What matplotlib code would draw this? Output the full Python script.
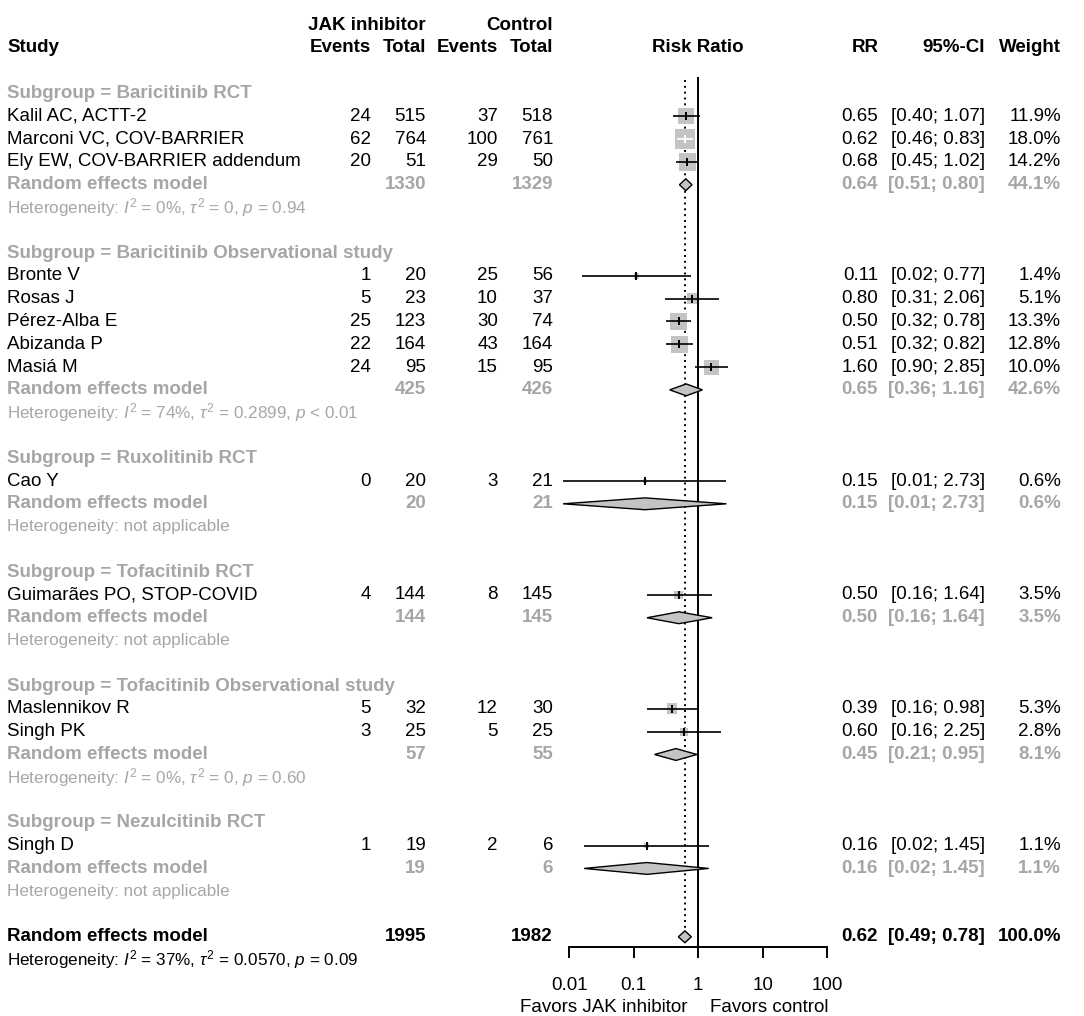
import matplotlib.pyplot as plt
import numpy as np
from matplotlib.patches import Polygon
from matplotlib.ticker import NullLocator
from matplotlib.transforms import blended_transform_factory

plt.rcParams["font.family"] = ["Liberation Sans", "DejaVu Sans"]
plt.rcParams["mathtext.fontset"] = "custom"
plt.rcParams["mathtext.rm"] = "Liberation Sans"
plt.rcParams["mathtext.it"] = "Liberation Sans:italic"
plt.rcParams["mathtext.bf"] = "Liberation Sans:bold"

# --- study level data ---
studies = ["Kalil AC, ACTT-2", "Marconi VC, COV-BARRIER", "Ely EW, COV-BARRIER addendum",
           "Bronte V", "Rosas J", "Pérez-Alba E", "Abizanda P", "Masiá M",
           "Cao Y",
           "Guimarães PO, STOP-COVID",
           "Maslennikov R", "Singh PK",
           "Singh D"]
jak_events = [24, 62, 20, 1, 5, 25, 22, 24, 0, 4, 5, 3, 1]
jak_total = [515, 764, 51, 20, 23, 123, 164, 95, 20, 144, 32, 25, 19]
ctl_events = [37, 100, 29, 25, 10, 30, 43, 15, 3, 8, 12, 5, 2]
ctl_total = [518, 761, 50, 56, 37, 74, 164, 95, 21, 145, 30, 25, 6]
rr = [0.65, 0.62, 0.68, 0.11, 0.80, 0.50, 0.51, 1.60, 0.15, 0.50, 0.39, 0.60, 0.16]
rr_lo = [0.40, 0.46, 0.45, 0.016, 0.31, 0.32, 0.32, 0.90, 0.008, 0.16, 0.16, 0.16, 0.017]
rr_hi = [1.07, 0.83, 1.02, 0.77, 2.06, 0.78, 0.82, 2.85, 2.73, 1.64, 0.98, 2.25, 1.45]
weight = [11.9, 18.0, 14.2, 1.4, 5.1, 13.3, 12.8, 10.0, 0.6, 3.5, 5.3, 2.8, 1.1]

# --- subgroup data ---
sub_names = ["Baricitinib RCT", "Baricitinib Observational study", "Ruxolitinib RCT",
             "Tofacitinib RCT", "Tofacitinib Observational study", "Nezulcitinib RCT"]
sub_n = [3, 5, 1, 1, 2, 1]
sub_jak_total = [1330, 425, 20, 144, 57, 19]
sub_ctl_total = [1329, 426, 21, 145, 55, 6]
sub_rr = [0.64, 0.65, 0.15, 0.50, 0.45, 0.16]
sub_lo = [0.51, 0.36, 0.008, 0.16, 0.21, 0.017]
sub_hi = [0.80, 1.16, 2.73, 1.64, 0.95, 1.45]
sub_weight = [44.1, 42.6, 0.6, 3.5, 8.1, 1.1]
sub_het = [r"$I^2$ = 0%, $\tau^2$ = 0, $p$ = 0.94",
           r"$I^2$ = 74%, $\tau^2$ = 0.2899, $p$ < 0.01",
           "not applicable",
           "not applicable",
           r"$I^2$ = 0%, $\tau^2$ = 0, $p$ = 0.60",
           "not applicable"]

# --- overall ---
all_jak_total, all_ctl_total = 1995, 1982
all_rr, all_lo, all_hi = 0.62, 0.49, 0.78
all_het = r"$I^2$ = 37%, $\tau^2$ = 0.0570, $p$ = 0.09"

W, H = 1084, 1016
TOP_PX = 48.0
ROW_PX = 22.79
AXIS_ROW = 39.43
ONE_PX = 698.3
DECADE_PX = 64.5
FS = 13.5
FS_HET = 12.3
GREY = "#A6A6A6"
BOX = "#C4C4C4"

fig = plt.figure(figsize=(W / 100, H / 100), dpi=100)
ax_l, ax_r = 540, 860
y0 = 1 - (TOP_PX + AXIS_ROW * ROW_PX) / H
ax = fig.add_axes([ax_l / W, y0, (ax_r - ax_l) / W, 1 - y0])
ax.set_xscale("log")
ax.set_xlim(10 ** ((ax_l - ONE_PX) / DECADE_PX), 10 ** ((ax_r - ONE_PX) / DECADE_PX))
ax.set_ylim(AXIS_ROW, -TOP_PX / ROW_PX)
ax.patch.set_visible(False)
for side in ["top", "right", "left"]:
    ax.spines[side].set_visible(False)
ax.spines["bottom"].set_bounds(0.01, 100)
ax.spines["bottom"].set_linewidth(1.4)
ax.set_xticks([0.01, 0.1, 1, 10, 100], ["0.01", "0.1", "1", "10", "100"])
ax.xaxis.set_minor_locator(NullLocator())
ax.set_yticks([])
ax.tick_params(axis="x", length=8.1, width=1.4, pad=13.5, labelsize=FS)

trans = blended_transform_factory(fig.transFigure, ax.transData)


def put(xpx, row, s, ha="right", color="black", bold=False, size=FS):
    ax.text(xpx / W, row, s, transform=trans, ha=ha, va="center", color=color,
            fontweight="bold" if bold else "normal", fontsize=size)


def row_values(row, r, lo, hi, w, color="black", bold=False):
    put(878, row, f"{r:.2f}", color=color, bold=bold)
    put(985, row, f"[{lo:.2f}; {hi:.2f}]", color=color, bold=bold)
    put(1061, row, f"{w:.1f}%", color=color, bold=bold)


def diamond(row, r, lo, hi):
    h = 0.26
    ax.add_patch(Polygon([(lo, row), (r, row - h), (hi, row), (r, row + h)],
                         closed=True, facecolor=BOX, edgecolor="black", lw=1.0,
                         zorder=4, clip_on=False))


# headers
put(426, -1, "JAK inhibitor", bold=True)
put(553, -1, "Control", bold=True)
put(7, 0, "Study", ha="left", bold=True)
put(371, 0, "Events", bold=True)
put(426, 0, "Total", bold=True)
put(498, 0, "Events", bold=True)
put(553, 0, "Total", bold=True)
put(698, 0, "Risk Ratio", ha="center", bold=True)
put(879, 0, "RR", bold=True)
put(985, 0, "95%-CI", bold=True)
put(1061, 0, "Weight", bold=True)

row = 2
i = 0
for g, name in enumerate(sub_names):
    put(7, row, f"Subgroup = {name}", ha="left", color=GREY, bold=True)
    row += 1
    for _ in range(sub_n[g]):
        put(7, row, studies[i], ha="left")
        put(371, row, str(jak_events[i]))
        put(426, row, str(jak_total[i]))
        put(498, row, str(ctl_events[i]))
        put(553, row, str(ctl_total[i]))
        row_values(row, rr[i], rr_lo[i], rr_hi[i], weight[i])

        side_px = 4.71 * np.sqrt(weight[i])
        ax.scatter([rr[i]], [row], marker="s", s=(side_px * 0.72) ** 2,
                   color=BOX, edgecolors="none", zorder=2, clip_on=False)
        c_px = ONE_PX + DECADE_PX * np.log10(rr[i])
        inside = (ONE_PX + DECADE_PX * np.log10(rr_lo[i]) >= c_px - side_px / 2 and
                  ONE_PX + DECADE_PX * np.log10(rr_hi[i]) <= c_px + side_px / 2)
        lc = "white" if inside else "black"
        ax.hlines(row, rr_lo[i], rr_hi[i], color=lc, lw=1.2, zorder=3, clip_on=False)
        ax.scatter([rr[i]], [row], marker="|", s=30, color=lc, linewidths=1.4,
                   zorder=3, clip_on=False)
        row += 1
        i += 1
    put(7, row, "Random effects model", ha="left", color=GREY, bold=True)
    put(426, row, str(sub_jak_total[g]), color=GREY, bold=True)
    put(553, row, str(sub_ctl_total[g]), color=GREY, bold=True)
    row_values(row, sub_rr[g], sub_lo[g], sub_hi[g], sub_weight[g], color=GREY, bold=True)
    diamond(row, sub_rr[g], sub_lo[g], sub_hi[g])
    row += 1
    put(7, row, "Heterogeneity: " + sub_het[g], ha="left", color=GREY, size=FS_HET)
    row += 2

put(7, row, "Random effects model", ha="left", bold=True)
put(426, row, str(all_jak_total), bold=True)
put(553, row, str(all_ctl_total), bold=True)
row_values(row, all_rr, all_lo, all_hi, 100.0, bold=True)
diamond(row, all_rr, all_lo, all_hi)
put(7, row + 1, "Heterogeneity: " + all_het, ha="left", size=FS_HET)

# reference lines
ax.vlines(1, 1.27, AXIS_ROW, color="black", lw=1.4, zorder=1, clip_on=False)
ax.vlines(all_rr, 1.4, row - 0.28, color="black", lw=1.4, linestyles=(0, (1, 2)),
          zorder=1, clip_on=False)

put(687, 42.1, "Favors JAK inhibitor")
put(710, 42.1, "Favors control", ha="left")

fig.savefig("out.png", dpi=100)
